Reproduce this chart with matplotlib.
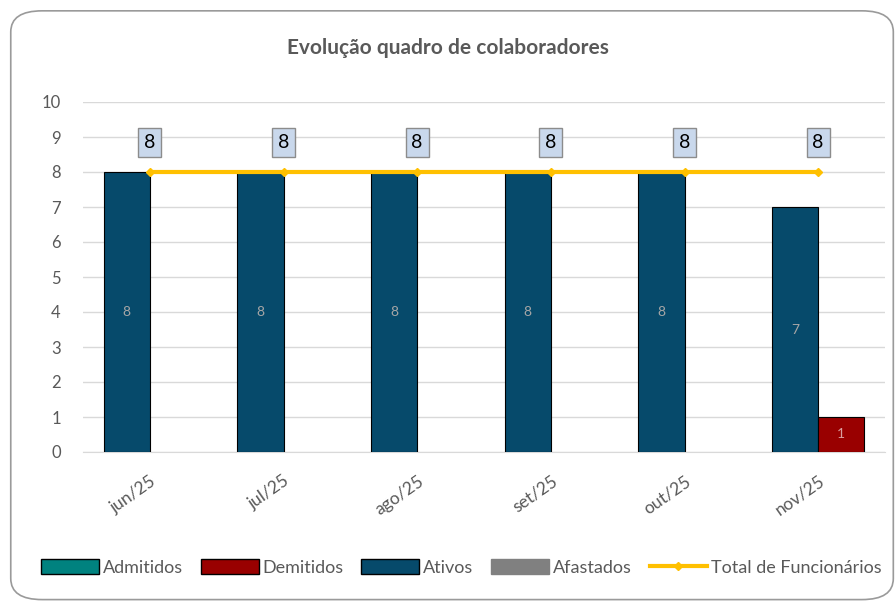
import matplotlib.pyplot as plt
import numpy as np
from matplotlib.patches import FancyBboxPatch, Patch
from matplotlib.lines import Line2D

plt.rcParams['font.family'] = ['Lato', 'DejaVu Sans']

meses = ['jun/25', 'jul/25', 'ago/25', 'set/25', 'out/25', 'nov/25']
admitidos = [0, 0, 0, 0, 0, 0]
demitidos = [0, 0, 0, 0, 0, 1]
ativos = [8, 8, 8, 8, 8, 7]
afastados = [0, 0, 0, 0, 0, 0]
total = [8, 8, 8, 8, 8, 8]

c_adm = '#00827f'
c_dem = '#990000'
c_ati = '#064a6b'
c_afa = '#808080'
c_tot = '#ffc000'
c_txt = '#595959'

fig = plt.figure(figsize=(8.96, 6.02), dpi=100)
border = FancyBboxPatch((0.012, 0.004), 0.985, 0.978, boxstyle='round,pad=0,rounding_size=0.035',
                        transform=fig.transFigure, facecolor='none', edgecolor='#9a9a9a',
                        linewidth=1.2, zorder=-1)
fig.patches.append(border)

ax = fig.add_axes([83 / 896, 150 / 602, 802 / 896, 350 / 602])
ax.set_facecolor('none')
x = np.arange(len(meses))
w = 0.345

ati = np.array(ativos)
dem = np.array(demitidos)
ax.bar(x[ati > 0] - w / 2, ati[ati > 0], w, color=c_ati, edgecolor='black', linewidth=0.8, zorder=3)
ax.bar(x[dem > 0] + w / 2, dem[dem > 0], w, color=c_dem, edgecolor='black', linewidth=0.8, zorder=3)
ax.plot(x, total, color=c_tot, linewidth=3, marker='D', markersize=4, zorder=4)

for i in range(len(meses)):
    if ativos[i] > 0:
        ax.text(x[i] - w / 2, ativos[i] / 2, str(ativos[i]), ha='center', va='center',
                color='#a6a6a6', fontsize=10, zorder=5)
    if demitidos[i] > 0:
        ax.text(x[i] + w / 2, demitidos[i] / 2, str(demitidos[i]), ha='center', va='center',
                color='#d9a0a0', fontsize=10, zorder=5)
    ax.text(x[i], total[i] + 0.85, str(total[i]), ha='center', va='center', fontsize=14,
            color='black', zorder=5,
            bbox=dict(boxstyle='square,pad=0.3', facecolor='#c9d8ec', edgecolor='#8c8c8c', linewidth=1))

ax.set_xlim(-0.5, len(meses) - 0.5)
ax.set_ylim(0, 10)
ax.set_yticks(range(0, 11))
ax.set_xticks(x)
ax.set_xticklabels(meses, rotation=35, ha='right', rotation_mode='anchor', fontsize=12.5, color=c_txt)
ax.tick_params(axis='y', labelsize=12, labelcolor=c_txt, length=0, pad=16)
ax.tick_params(axis='x', length=0, pad=15)
ax.grid(axis='y', color='#d9d9d9', linewidth=1, zorder=0)
for s in ['top', 'right', 'left']:
    ax.spines[s].set_visible(False)
ax.spines['bottom'].set_color('#d9d9d9')

fig.text(0.5, 0.92, 'Evolução quadro de colaboradores', ha='center', va='center',
         fontsize=15, fontweight='bold', color=c_txt)

handles = [Patch(facecolor=c_adm, edgecolor='black', label='Admitidos'),
           Patch(facecolor=c_dem, edgecolor='black', label='Demitidos'),
           Patch(facecolor=c_ati, edgecolor='black', label='Ativos'),
           Patch(facecolor=c_afa, edgecolor=c_afa, label='Afastados'),
           Line2D([0], [0], color=c_tot, linewidth=3, marker='D', markersize=4,
                  label='Total de Funcionários')]
fig.legend(handles=handles, loc='center', bbox_to_anchor=(0.515, 0.057), ncol=5, frameon=False,
           fontsize=13, handlelength=3.2, handleheight=0.9, handletextpad=0.2, columnspacing=1.0,
           labelcolor=c_txt)

fig.savefig('out.png', dpi=100)
